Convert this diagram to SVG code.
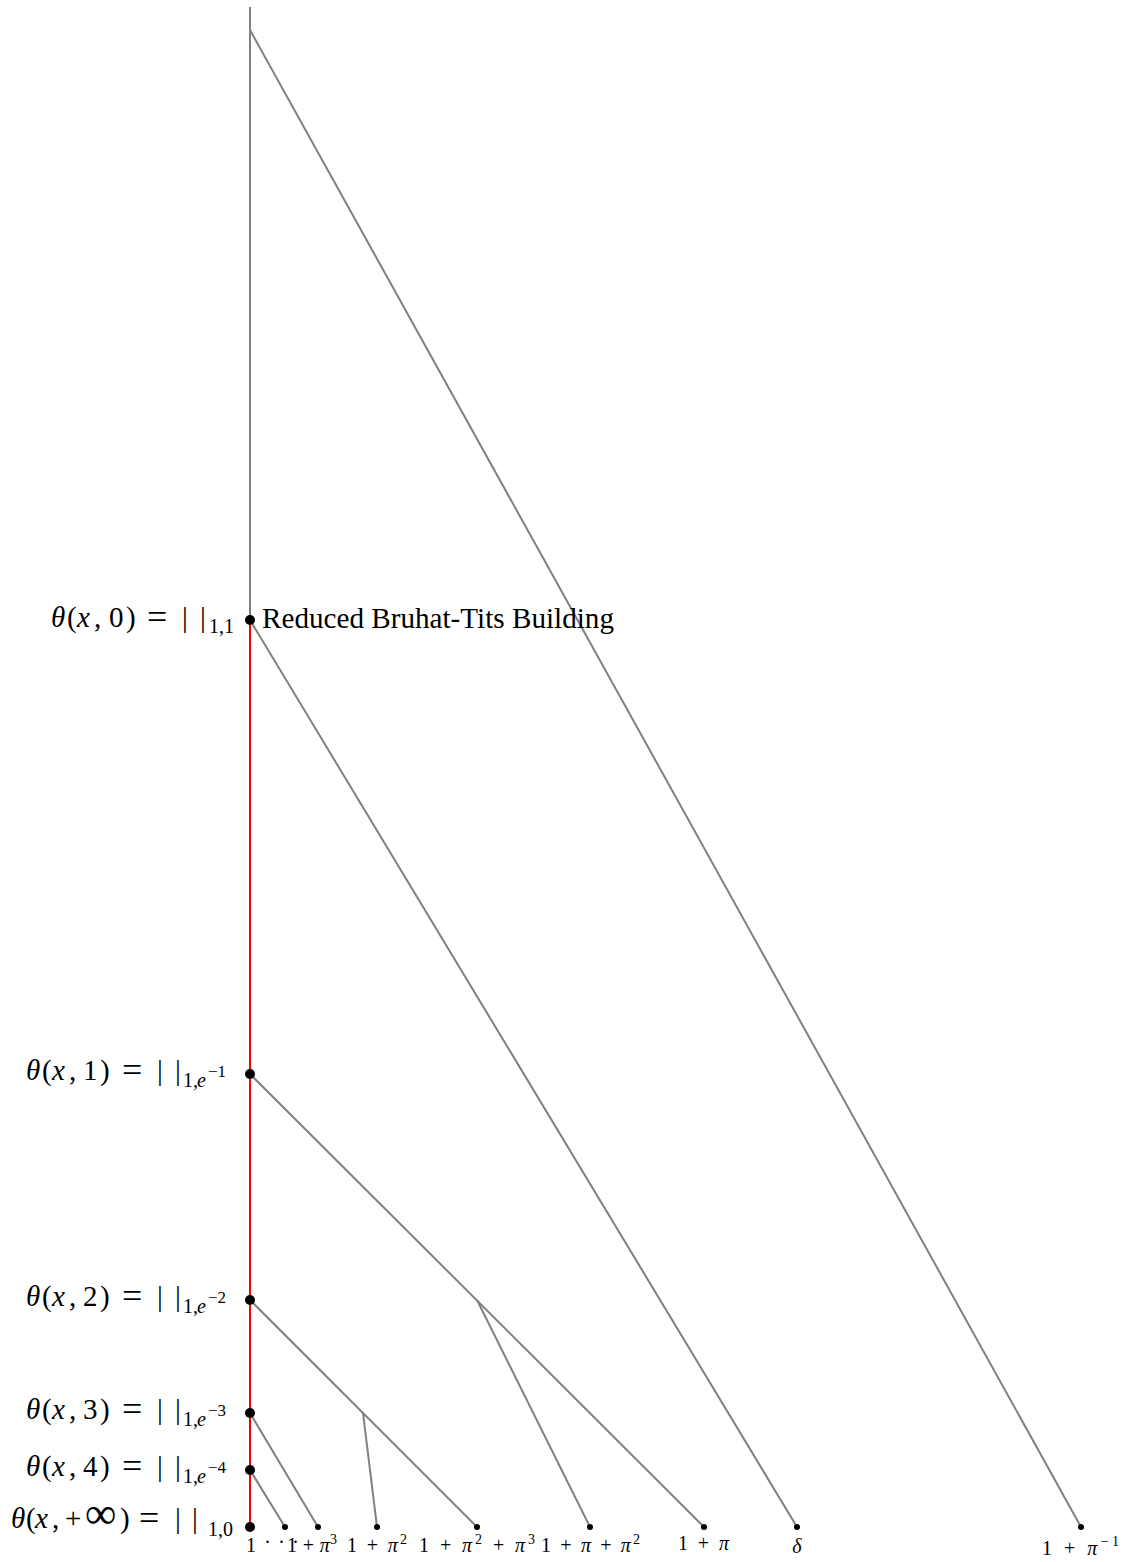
<svg xmlns="http://www.w3.org/2000/svg" width="1129" height="1562" viewBox="0 0 1129 1562">
<style>
.edge{stroke:#808080;stroke-width:2;fill:none;stroke-linecap:butt}
.red{stroke:#ff0000;stroke-width:2;fill:none}
.big{fill:#000}
.sm{fill:#000}
text{font-family:"Liberation Serif","DejaVu Serif",serif;fill:#000}
.m{font-size:29px}
.eq{font-size:36px}
.s{font-size:20px}
.ss{font-size:17px}
.b{font-size:20px}
.bs{font-size:14px}
.i{font-style:italic}
</style>
<rect width="1129" height="1562" fill="#ffffff"/>
<g id="connectors">
  <line class="edge" x1="250" y1="7" x2="250" y2="620"/>
  <line class="edge" x1="250" y1="30" x2="1081" y2="1527"/>
  <line class="edge" x1="250" y1="620" x2="797" y2="1527"/>
  <line class="edge" x1="250" y1="1074" x2="704" y2="1527"/>
  <line class="edge" x1="477" y1="1300" x2="590" y2="1527"/>
  <line class="edge" x1="250" y1="1300" x2="477" y2="1527"/>
  <line class="edge" x1="363" y1="1413" x2="377" y2="1527"/>
  <line class="edge" x1="250" y1="1413" x2="318" y2="1527"/>
  <line class="edge" x1="250" y1="1470" x2="285" y2="1527"/>
  <line class="red" x1="250" y1="620" x2="250" y2="1527"/>
</g>
<g id="node-theta0">
  <circle class="big" cx="250" cy="620" r="5"/>
  <text class="m" y="627"><tspan x="51" class="i">θ</tspan><tspan x="67">(</tspan><tspan x="77" class="i">x</tspan><tspan x="94">,</tspan><tspan x="109">0</tspan><tspan x="126">)</tspan><tspan x="147" dy="2" class="eq">=</tspan><tspan x="182" dy="-2">|</tspan><tspan x="200">|</tspan><tspan x="209" y="633" class="s">1,1</tspan></text>
  <text class="m" x="262" y="628" textLength="352" lengthAdjust="spacingAndGlyphs">Reduced Bruhat-Tits Building</text>
</g>
<g id="node-theta1">
  <circle class="big" cx="250" cy="1074" r="5"/>
  <text class="m" y="1080"><tspan x="26" class="i">θ</tspan><tspan x="42">(</tspan><tspan x="52" class="i">x</tspan><tspan x="69">,</tspan><tspan x="83">1</tspan><tspan x="100">)</tspan><tspan x="122" dy="2" class="eq">=</tspan><tspan x="157" dy="-2">|</tspan><tspan x="175">|</tspan><tspan x="183" y="1087" class="s">1,</tspan><tspan x="197" class="s i">e</tspan><tspan x="208" y="1077" class="ss">−1</tspan></text>
</g>
<g id="node-theta2">
  <circle class="big" cx="250" cy="1300" r="5"/>
  <text class="m" y="1306"><tspan x="26" class="i">θ</tspan><tspan x="42">(</tspan><tspan x="52" class="i">x</tspan><tspan x="69">,</tspan><tspan x="83">2</tspan><tspan x="100">)</tspan><tspan x="122" dy="2" class="eq">=</tspan><tspan x="157" dy="-2">|</tspan><tspan x="175">|</tspan><tspan x="183" y="1313" class="s">1,</tspan><tspan x="197" class="s i">e</tspan><tspan x="208" y="1303" class="ss">−2</tspan></text>
</g>
<g id="node-theta3">
  <circle class="big" cx="250" cy="1413" r="5"/>
  <text class="m" y="1419"><tspan x="26" class="i">θ</tspan><tspan x="42">(</tspan><tspan x="52" class="i">x</tspan><tspan x="69">,</tspan><tspan x="83">3</tspan><tspan x="100">)</tspan><tspan x="122" dy="2" class="eq">=</tspan><tspan x="157" dy="-2">|</tspan><tspan x="175">|</tspan><tspan x="183" y="1426" class="s">1,</tspan><tspan x="197" class="s i">e</tspan><tspan x="208" y="1416" class="ss">−3</tspan></text>
</g>
<g id="node-theta4">
  <circle class="big" cx="250" cy="1470" r="5"/>
  <text class="m" y="1476"><tspan x="26" class="i">θ</tspan><tspan x="42">(</tspan><tspan x="52" class="i">x</tspan><tspan x="69">,</tspan><tspan x="83">4</tspan><tspan x="100">)</tspan><tspan x="122" dy="2" class="eq">=</tspan><tspan x="157" dy="-2">|</tspan><tspan x="175">|</tspan><tspan x="183" y="1483" class="s">1,</tspan><tspan x="197" class="s i">e</tspan><tspan x="208" y="1473" class="ss">−4</tspan></text>
</g>
<g id="node-thetainf">
  <circle class="big" cx="250" cy="1527" r="5"/>
  <text class="m" y="1528"><tspan x="11" class="i">θ</tspan><tspan x="26">(</tspan><tspan x="35" class="i">x</tspan><tspan x="52">,</tspan><tspan x="65">+</tspan><tspan x="85" style="font-size:44px">∞</tspan><tspan x="120">)</tspan><tspan x="139" dy="2" class="eq">=</tspan><tspan x="175" dy="-2">|</tspan><tspan x="192">|</tspan><tspan x="208" y="1536" class="s">1,0</tspan></text>
  <text class="b" x="251" y="1552" text-anchor="middle">1</text>
</g>
<g id="node-ddots">
  <circle class="sm" cx="285" cy="1527" r="3"/>
  <text class="b" x="265" y="1543" letter-spacing="9">...</text>
</g>
<g id="node-pi3">
  <circle class="sm" cx="318" cy="1527" r="3"/>
  <text class="b" x="287" y="1552" textLength="50">1 + <tspan class="i">π</tspan><tspan class="bs" dy="-8">3</tspan></text>
</g>
<g id="node-pi2">
  <circle class="sm" cx="377" cy="1527" r="3"/>
  <text class="b" x="347" y="1552" textLength="60">1 + <tspan class="i">π</tspan><tspan class="bs" dy="-8">2</tspan></text>
</g>
<g id="node-pi2pi3">
  <circle class="sm" cx="477" cy="1527" r="3"/>
  <text class="b" x="419" y="1552" textLength="116">1 + <tspan class="i">π</tspan><tspan class="bs" dy="-8">2</tspan><tspan dy="8"> + </tspan><tspan class="i">π</tspan><tspan class="bs" dy="-8">3</tspan></text>
</g>
<g id="node-pipi2">
  <circle class="sm" cx="590" cy="1527" r="3"/>
  <text class="b" x="541" y="1552" textLength="99">1 + <tspan class="i">π</tspan> + <tspan class="i">π</tspan><tspan class="bs" dy="-8">2</tspan></text>
</g>
<g id="node-pi">
  <circle class="sm" cx="704" cy="1527" r="3"/>
  <text class="b" x="678" y="1550" textLength="51">1 + <tspan class="i">π</tspan></text>
</g>
<g id="node-delta">
  <circle class="sm" cx="797" cy="1527" r="3"/>
  <text class="b i" x="797" y="1553" text-anchor="middle">δ</text>
</g>
<g id="node-piinv">
  <circle class="sm" cx="1081" cy="1527" r="3"/>
  <text class="b" x="1042" y="1555" textLength="77">1 + <tspan class="i">π</tspan><tspan class="bs" dy="-9">−1</tspan></text>
</g>
</svg>
